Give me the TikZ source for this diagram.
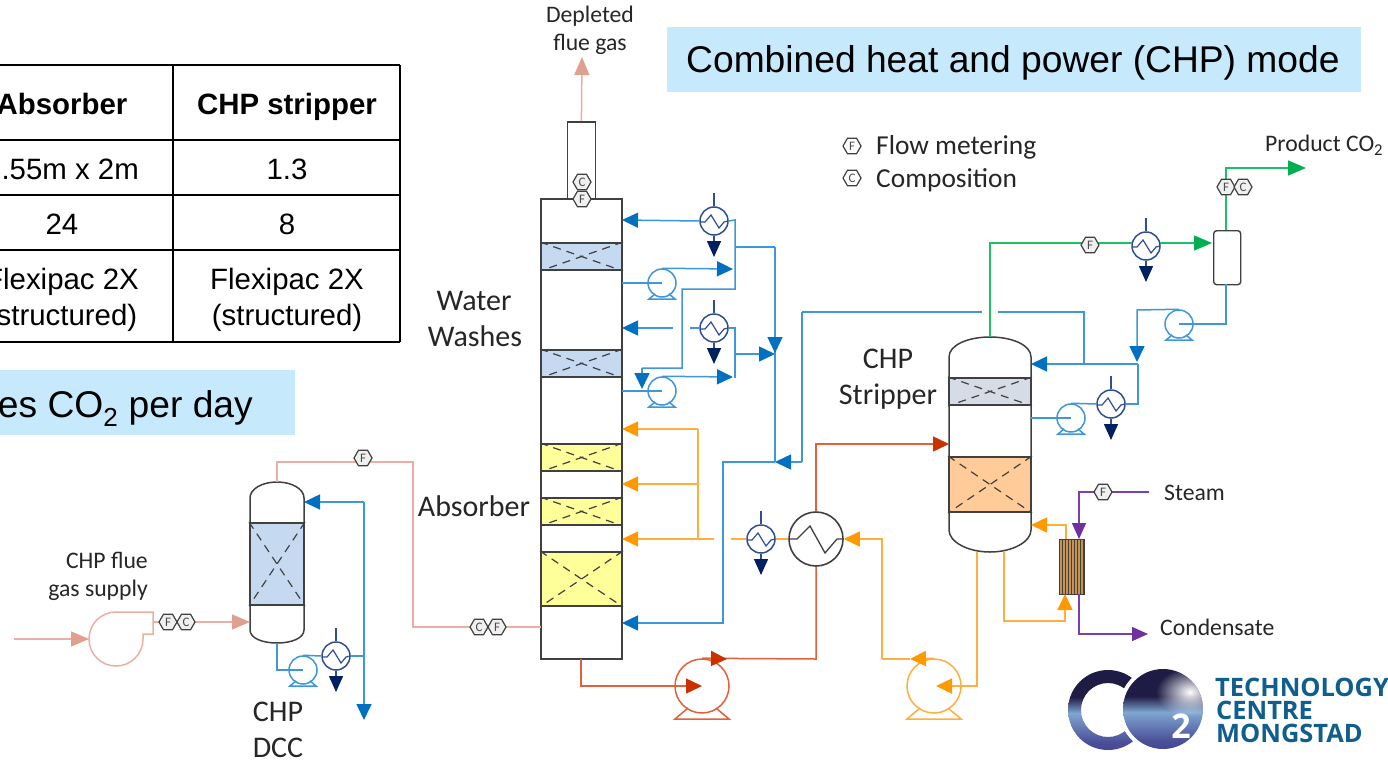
\documentclass[tikz,border=0pt]{standalone}
\usepackage{fontspec}
\setmainfont{Carlito}
\newfontfamily\arialf{Liberation Sans}
\newfontfamily\logof{Open Sans}
\usetikzlibrary{arrows.meta,calc,fadings,shapes.geometric}
\definecolor{bline}{HTML}{3F97DA}\definecolor{bfill}{HTML}{0070C0}
\definecolor{oline}{HTML}{FFAF3F}\definecolor{ofill}{HTML}{FF9900}
\definecolor{rline}{HTML}{E2603A}\definecolor{rfill}{HTML}{C93200}
\definecolor{pline}{HTML}{EBAEA5}\definecolor{pfill}{HTML}{E0A090}
\definecolor{gline}{HTML}{1FBF68}\definecolor{gfill}{HTML}{00B050}
\definecolor{vline}{HTML}{7B3FB0}\definecolor{vfill}{HTML}{7030A0}
\definecolor{cline}{HTML}{2F4F92}\definecolor{cfill}{HTML}{002060}
\definecolor{shell}{HTML}{404040}
\definecolor{banner}{HTML}{C6E9FB}
\definecolor{logoblue}{HTML}{0F5E8E}
\definecolor{bedblue}{HTML}{C5D9F1}
\definecolor{bedyellow}{HTML}{FFFF99}
\definecolor{bedgrey}{HTML}{D6DCE5}
\definecolor{bedorange}{HTML}{FFCC99}
\definecolor{rebfill}{HTML}{C8934F}
\definecolor{lgA}{HTML}{1E1C44}
\definecolor{lgB}{HTML}{7FA6D2}
\definecolor{lgC}{HTML}{4A4F98}
\definecolor{lgD}{HTML}{2C2A70}
\pgfdeclareverticalshading{logoshade}{100bp}{color(0bp)=(lgD); color(30bp)=(lgC); color(48bp)=(lgB); color(58bp)=(lgA); color(100bp)=(lgA)}
\tikzfading[name=logoglow,inner color=transparent!0,outer color=transparent!100]
\tikzset{
  pipeline/.style={line width=1.5pt,line join=miter},
  bl/.style={pipeline,draw=bline},
  bp/.style={bl,-{Triangle[length=16pt,width=15pt,color=bfill]}},
  ol/.style={pipeline,draw=oline},
  op/.style={ol,-{Triangle[length=16pt,width=15pt,color=ofill]}},
  rl/.style={pipeline,draw=rline},
  rp/.style={rl,-{Triangle[length=16pt,width=15pt,color=rfill]}},
  pl/.style={pipeline,draw=pline},
  pp/.style={pl,-{Triangle[length=18pt,width=15pt,color=pfill]}},
  gl/.style={pipeline,draw=gline},
  gp/.style={gl,-{Triangle[length=18pt,width=15pt,color=gfill]}},
  vl/.style={pipeline,draw=vline},
  vp/.style={vl,-{Triangle[length=16pt,width=14pt,color=vfill]}},
  cp/.style={pipeline,draw=cline,-{Triangle[length=16pt,width=14pt,color=cfill]}},
  shellbox/.style={draw=shell,line width=1.8pt,fill=white,rectangle,inner sep=0pt,xshift=-1pt,yshift=1pt},
  vesselline/.style={draw=shell,line width=1.5pt,fill=white},
  bedbox/.style={draw=shell,line width=2pt,rectangle,inner sep=0pt,xshift=-1pt,yshift=1pt},
  bedx/.style={draw=shell,line width=1.2pt,dash pattern=on 8pt off 6pt},
  hexa/.style={regular polygon,regular polygon sides=6,minimum size=18pt,inner sep=0pt,
     draw=shell,fill=gray!12,line width=1.2pt,font=\fontsize{13}{13}\selectfont\color{black!70}},
  lab/.style={inner sep=0pt,anchor=base,text=black!85,font=\fontsize{30}{30}\selectfont},
  midlab/.style={inner sep=0pt,text=black!85,font=\fontsize{27.4}{27.4}\selectfont},
  smalllab/.style={inner sep=0pt,text=black!85,font=\fontsize{23.7}{28}\selectfont},
  tabtxt/.style={inner sep=0pt,anchor=base,text=black,font=\arialf\fontsize{29.4}{29.4}\selectfont},
  tabhead/.style={tabtxt,font=\arialf\bfseries\fontsize{29.4}{29.4}\selectfont},
  tabline/.style={draw=black,line width=2pt},
  bannerbox/.style={fill=banner,draw=none,inner sep=0pt,rectangle},
  bannertxt/.style={inner sep=0pt,text=black,font=\arialf\fontsize{37.2}{37.2}\selectfont},
  logotxt/.style={inner sep=0pt,text=logoblue,font=\logof\bfseries\fontsize{25.4}{25.4}\selectfont},
}
% name x y colour
\newcommand{\smallpump}[4]{%
  \node[circle,draw=bline,line width=1.5pt,minimum size=28pt,inner sep=0pt] (#1) at (#2,#3) {};
  \begin{scope}[shift={(#2,#3)}]
    \draw[bl] (-7,11) -- (-13,16) -- (13,16) -- (7,11);
  \end{scope}
}
\newcommand{\bigpump}[4]{%
  \node[circle,draw=#4,line width=1.5pt,minimum size=54pt,inner sep=0pt] (#1) at (#2,#3) {};
  \begin{scope}[shift={(#2,#3)}]
    \draw[draw=#4,line width=1.5pt] (-14,22) -- (-27,33) -- (27,33) -- (14,22);
  \end{scope}
}
% name x y : cooler with its cold-side stubs
\newcommand{\cooler}[3]{%
  \node[circle,draw=cline,line width=1.5pt,minimum size=28pt,inner sep=0pt,fill=white] (#1) at (#2,#3) {};
  \begin{scope}[shift={(#2,#3)}]
    \draw[draw=cline,line width=1.2pt] (-14,1) -- (-9,1) -- (-3,-6) -- (5,7) -- (10,1) -- (14,0);
    \coordinate (#1-in) at (0,-28);
    \coordinate (#1-out) at (0,36);
  \end{scope}
  \draw[pipeline,draw=cline] (#1-in) -- (#1.north);
  \draw[cp] (#1.south) -- (#1-out);
}
% name x1 y1 x2 y2 fill
\newcommand{\bed}[6]{%
  \node[bedbox,fill=#6,anchor=north west,minimum width=#4-#2,minimum height=#5-#3] (#1) at (#2,#3) {};
  \draw[bedx] (#1.north west) -- (#1.south east);
  \draw[bedx] (#1.north east) -- (#1.south west);
}
\begin{document}
\begin{tikzpicture}[x=1pt,y=-1pt]
\useasboundingbox (0,0) rectangle (1388,760);
\clip (0,0) rectangle (1388,760);
\fill[white] (0,0) rectangle (1388,760);

% ---- banners
\node[bannerbox,anchor=north west,minimum width=694pt,minimum height=65pt] (bannerA) at (667,27) {};
\node[bannertxt,anchor=base west] (bannerAt) at (686,73) {Combined heat and power (CHP) mode};
\node[bannerbox,anchor=north west,minimum width=295pt,minimum height=65pt] (bannerB) at (0,370) {};
\node[bannertxt,anchor=base east] (bannerBt) at (253,417) {es CO\textsubscript{2} per day};

% ---- table
\draw[tabline] (-5,65) -- (400,65) (-5,140) -- (400,140) (-5,195) -- (400,195) (-5,250) -- (400,250) (-5,342) -- (400,342);
\draw[tabline] (173,65) -- (173,342) (400,65) -- (400,342);
\node[tabhead] (t1) at (62,114.5) {Absorber};
\node[tabhead] (t2) at (287,114.5) {CHP stripper};
\node[tabtxt] (t3) at (62,179.5) {3.55m x 2m};
\node[tabtxt] (t4) at (287,179.5) {1.3};
\node[tabtxt] (t5) at (62,234.5) {24};
\node[tabtxt] (t6) at (287,234.5) {8};
\node[tabtxt] (t7) at (62,289.5) {Flexipac 2X};
\node[tabtxt] (t8) at (287,289.5) {Flexipac 2X};
\node[tabtxt] (t9) at (62,325.5) {(structured)};
\node[tabtxt] (t10) at (287,325.5) {(structured)};

% ---- junctions
\coordinate (depl) at (582,57);
\coordinate (aW1) at (622,220);
\coordinate (aW2) at (622,328);
\coordinate (j735a) at (735,220);
\coordinate (j735b) at (735,247);
\coordinate (j735c) at (735,289);
\coordinate (j682a) at (682,289);
\coordinate (j682b) at (682,368);
\coordinate (j642a) at (642,368);
\coordinate (j642b) at (642,389);
\coordinate (j775a) at (775,247);
\coordinate (j775b) at (775,353);
\coordinate (j775c) at (775,462);
\coordinate (j733a) at (733,269);
\coordinate (j733b) at (733,377);
\coordinate (j735d) at (735,328);
\coordinate (j735e) at (735,378);
\coordinate (j735f) at (735,354);
\coordinate (j775d) at (775,354);
\coordinate (g1) at (690,328);
\coordinate (g2) at (673,328);
\coordinate (j802a) at (802,462);
\coordinate (j802b) at (802,312);
\coordinate (g3) at (982,312);
\coordinate (g4) at (998,312);
\coordinate (j1084a) at (1084,312);
\coordinate (j1084b) at (1084,364);
\coordinate (j723a) at (723,462);
\coordinate (j723b) at (723,623);
\coordinate (aLean) at (622,623);

% ---- absorber
\node[shellbox,anchor=north west,minimum width=28pt,minimum height=77pt] (stack) at (567.5,122) {};
\node[shellbox,anchor=north west,minimum width=81pt,minimum height=460pt] (absorber) at (541,199) {};
\bed{wb1}{541}{243}{622}{270}{bedblue}
\bed{wb2}{541}{350}{622}{377}{bedblue}
\bed{ab1}{541}{444}{622}{471}{bedyellow}
\bed{ab2}{541}{498}{622}{525}{bedyellow}
\bed{ab3}{541}{552}{622}{606}{bedyellow}

% ---- water-wash loops
\smallpump{wp1}{662}{283}{bline}
\smallpump{wp2}{662}{391}{bline}
\cooler{wc1}{714}{221}
\cooler{wc2}{714}{328}
\draw[bp] (wc1.west) -- (aW1);
\draw[bl] (wc1.east) -- (j735a) -- (j735c) -- (j682a) -- (j682b) -- (j642a);
\draw[bp] (j642a) -- (j642b);
\draw[bl] (j735b) -- (j775a);
\draw[bl] (j775a) -- (j775c);
\draw[bp] (j775a) -- (j775b);
\draw[bl] (622,283) -- (wp1.center);
\draw[bp] (wp1.north) -- (j733a);
\draw[bl] (wc2.west) -- (g1);
\draw[bp] (g2) -- (aW2);
\draw[bl] (wc2.east) -- (j735d) -- (j735e);
\draw[bp] (j735f) -- (j775d);
\draw[bl] (622,391) -- (wp2.center);
\draw[bp] (wp2.north) -- (j733b);
\draw[bl] (j802b) -- (j802a);
\draw[bp] (j802a) -- (j775c);
\draw[bp] (j775c) -- (j723a) -- (j723b) -- (aLean);
\draw[bl] (g3) -- (j802b);
\draw[bl] (g4) -- (j1084a) -- (j1084b);

% ---- orange lean amine to absorber
\coordinate (oj1) at (698,429);
\coordinate (oj2) at (698,484);
\coordinate (oj3) at (698,539);
\coordinate (og1) at (714,539);
\coordinate (og2) at (731,539);
\coordinate (aO1) at (622,429);
\coordinate (aO2) at (622,484);
\coordinate (aO3) at (622,539);
\draw[ol] (oj1) -- (oj3);
\draw[op] (oj1) -- (aO1);
\draw[op] (oj2) -- (aO2);
\draw[op] (og1) -- (aO3);
\cooler{oc}{761}{539}
\node[circle,draw=shell,line width=1.6pt,minimum size=54pt,inner sep=0pt] (hx) at (816,539) {};
\draw[ol] (og2) -- (oc.west);
\draw[ol] (oc.east) -- (hx.west);
\begin{scope}[shift={(816,539)}]
  \draw[draw=shell,line width=1.3pt] (-27,0) -- (-19,0) -- (-6,-13) -- (9,14) -- (21,0) -- (27,0);
\end{scope}

% ---- rich amine
\bigpump{rp}{702}{686}{rline}
\coordinate (rj1) at (581,659);
\coordinate (rj2) at (581,686);
\coordinate (rt) at (727,659);
\coordinate (rj3) at (816,659);
\coordinate (rj4) at (816,444);
\coordinate (sR) at (949,444);
\draw[rp] (rj1) -- (rj2) -- (rp.center);
\draw[rl] (hx.south) -- (rj3) -- (rp.north);
\draw[rp] (rp.north) -- (rt);
\draw[rp] (hx.north) -- (rj4) -- (sR);

% ---- CHP stripper
\draw[vesselline] (949,357) .. controls (949,345) and (968,337) .. (990,337)
   .. controls (1012,337) and (1031,345) .. (1031,357) -- (1031,530)
   .. controls (1031,542) and (1012,552) .. (990,552)
   .. controls (968,552) and (949,542) .. (949,530) -- cycle;
\coordinate (sTop) at (990,337);
\coordinate (sOut1) at (977,552);
\coordinate (sOut2) at (1004,552);
\bed{sb1}{949}{378}{1031}{405}{bedgrey}
\bed{sb2}{949}{457}{1031}{512}{bedorange}

% ---- lean amine from stripper
\bigpump{op1}{934}{686}{oline}
\coordinate (oA) at (936,686);
\coordinate (oB) at (977,686);
\coordinate (oC) at (910,659);
\coordinate (oD) at (882,659);
\coordinate (oE) at (882,539);
\draw[op] (sOut1) -- (oB) -- (oA);
\draw[op] (op1.north) -- (oC);
\draw[ol] (oC) -- (oD);
\draw[op] (oD) -- (oE) -- (hx.east);

% ---- reboiler
\node[draw=shell,line width=1.3pt,fill=rebfill,rectangle,inner sep=0pt,anchor=north west,minimum width=25pt,minimum height=55pt] (reb) at (1059,539) {};
\foreach \xx in {1062,1065,1068,1071,1074,1077,1080,1083}
  \draw[draw=black!75,line width=0.9pt] (\xx,539) -- (\xx,594);
\coordinate (rOut) at (1004,621);
\coordinate (rIn) at (1065,621);
\coordinate (rTip) at (1065,594);
\coordinate (rUp) at (1066,525);
\coordinate (rSt) at (1031,525);
\draw[op] (sOut2) -- (rOut) -- (rIn) -- (rTip);
\draw[op] (1066,539) -- (rUp) -- (rSt);
\coordinate (stm) at (1149,492);
\coordinate (stmB) at (1079,492);
\coordinate (stmT) at (1079,539);
\coordinate (cond) at (1079,634);
\coordinate (condT) at (1148,634);
\draw[vp] (stm) -- (stmB) -- (stmT);
\draw[vp] (1079,594) -- (cond) -- (condT);

% ---- overhead
\node[draw=shell,line width=1.4pt,fill=white,rectangle,rounded corners=3pt,inner sep=0pt,anchor=north west,minimum width=27pt,minimum height=54pt] (drum) at (1213,230) {};
\coordinate (drumT) at (1226,230);
\coordinate (drumB) at (1226,284);
\coordinate (gA) at (990,243);
\coordinate (gT1) at (1212,243);
\coordinate (gB) at (1226,168);
\coordinate (gT2) at (1306,168);
\cooler{sc1}{1146}{246}
\draw[gl] (sTop) -- (gA) -- (1132,243);
\draw[gp] (1160,243) -- (gT1);
\draw[gp] (drumT) -- (gB) -- (gT2);

% ---- stripper wash loop
\smallpump{dp}{1179}{324}{bline}
\smallpump{sp}{1071}{418}{bline}
\cooler{sc2}{1111}{404}
\coordinate (bA) at (1226,324);
\coordinate (bB) at (1137,310);
\coordinate (bC) at (1137,362);
\coordinate (bD) at (1138,364);
\coordinate (bE) at (1138,404);
\coordinate (bF) at (1031,364);
\draw[bl] (drumB) -- (bA) -- (dp.center);
\draw[bp] (dp.north) -- (bB) -- (bC);
\draw[bp] (bD) -- (bF);
\draw[bl] (bD) -- (bE) -- (sc2.east);
\draw[bl] (sc2.west) -- (sp.north);
\draw[bl] (1031,418) -- (sp.center);

% ---- flue gas path: DCC
\draw[vesselline] (250,498) .. controls (250,489) and (262,482) .. (277,482)
   .. controls (292,482) and (304,489) .. (304,498) -- (304,630)
   .. controls (304,638) and (292,643) .. (277,643)
   .. controls (262,643) and (250,638) .. (250,630) -- cycle;
\bed{dccbed}{250}{523}{304}{605}{bedblue}
\coordinate (dccT) at (277,482);
\coordinate (dccB) at (277,643);
\coordinate (dj1) at (277,462);
\coordinate (dj2) at (413,462);
\coordinate (dj3) at (413,627);
\coordinate (aIn) at (541,627);
\draw[pl] (dccT) -- (dj1) -- (dj2) -- (dj3) -- (aIn);
\draw[pp] (stack.north) -- (depl);

% blower
\coordinate (blIn) at (14,639);
\coordinate (blTip) at (89,639);
\coordinate (blOut) at (153,622);
\coordinate (dccIn) at (250,622);
\draw[pl] (143,634) -- (143,639) .. controls (143,654) and (131,666) .. (116,666)
   .. controls (101,666) and (89,654) .. (89,639)
   .. controls (89,624) and (101,612) .. (116,612) -- (153,612) -- (153,634) -- cycle;
\draw[pp] (blIn) -- (blTip);
\draw[pp] (blOut) -- (dccIn);

% DCC water loop
\smallpump{dccp}{303}{670}{bline}
\cooler{dccc}{336}{656}
\coordinate (dA) at (277,670);
\coordinate (dB) at (364,502);
\coordinate (dC) at (304,502);
\coordinate (dD) at (364,720);
\coordinate (dE) at (364,656);
\draw[bl] (dccB) -- (dA) -- (dccp.center);
\draw[bl] (dccp.north) -- (dccc.west);
\draw[bl] (dccc.east) -- (dE);
\draw[bp] (dB) -- (dD);
\draw[bp] (dB) -- (dC);

% ---- instruments
\node[hexa] (i1) at (582,182) {C};
\node[hexa] (i2) at (582,199) {F};
\node[hexa] (i3) at (363,458) {F};
\node[hexa] (i4) at (479,627) {C};
\node[hexa] (i5) at (497,627) {F};
\node[hexa] (i6) at (168,622) {F};
\node[hexa] (i7) at (186,622) {C};
\node[hexa] (i8) at (1090,245) {F};
\node[hexa] (i9) at (1226,187) {F};
\node[hexa] (i10) at (1243,187) {C};
\node[hexa] (i11) at (1103,492) {F};
\node[hexa,fill=white] (leg1) at (852,146) {F};
\node[hexa,fill=white] (leg2) at (852,178) {C};

% ---- labels
\node[smalllab,align=center] (tDep) at (590,30) {Depleted\\flue gas};
\node[midlab,anchor=west] (tL1) at (876,147) {Flow metering};
\node[midlab,anchor=west] (tL2) at (876,180) {Composition};
\node[lab] (tW1) at (474,310) {Water};
\node[lab] (tW2) at (475,346) {Washes};
\node[lab] (tAb) at (474,516) {Absorber};
\node[lab] (tS1) at (888,368) {CHP};
\node[lab] (tS2) at (888,404) {Stripper};
\node[lab] (tD1) at (278,721) {CHP};
\node[lab] (tD2) at (278,757) {DCC};
\node[smalllab,anchor=east] (tF1) at (148,560) {CHP flue};
\node[smalllab,anchor=east] (tF2) at (148,590) {gas supply};
\node[smalllab,anchor=west] (tP) at (1265,145) {Product CO\textsubscript{2}};
\node[smalllab,anchor=west] (tSt) at (1164,493) {Steam};
\node[smalllab,anchor=west] (tCo) at (1160,627) {Condensate};

% ---- logo
\path[shading=logoshade,even odd rule] (1108,710) circle[radius=40] (1108,710) circle[radius=27];
\fill[white] (1163,709) circle[radius=44];
\path[shading=logoshade] (1163,709) circle[radius=40];
\begin{scope}
  \clip (1163,709) circle[radius=40];
  \fill[white,path fading=logoglow] (1190,692) ellipse[x radius=34,y radius=24];
\end{scope}
\node[inner sep=0pt,text=white,font=\logof\bfseries\fontsize{34}{34}\selectfont] (logo2) at (1181,726) {2};
\node[logotxt,anchor=base west] (lg1) at (1215,696) {TECHNOLOGY};
\node[logotxt,anchor=base west] (lg2) at (1216,719) {CENTRE};
\node[logotxt,anchor=base west] (lg3) at (1216,742) {MONGSTAD};
\end{tikzpicture}
\end{document}
